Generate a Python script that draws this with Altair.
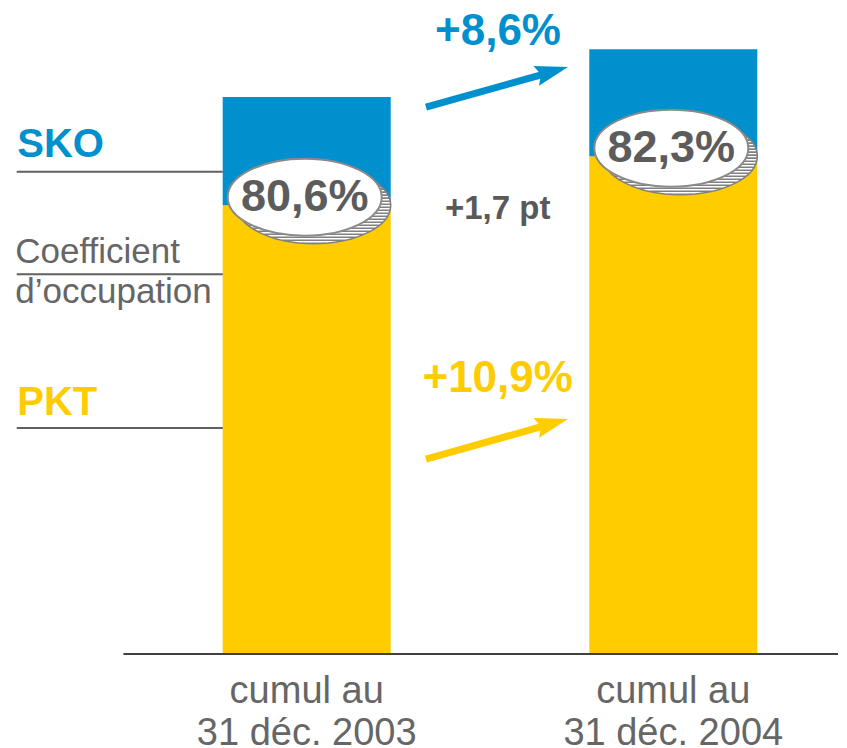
import altair as alt
import pandas as pd
import numpy as np

# ---------------- data ----------------
period_x = [1, 2]
period_line1 = ["cumul au", "cumul au"]
period_line2 = ["31 déc. 2003", "31 déc. 2004"]
sko = [100.0, 108.6]          # seat-km offered (index, 2003 = 100)
pkt = [80.6, 89.4]            # passenger-km transported (same index)
load_factor = ["80,6%", "82,3%"]
sko_growth = "+8,6%"
pkt_growth = "+10,9%"
lf_change = "+1,7 pt"
legend_names = ["SKO", "Coefficient\nd\u2019occupation", "PKT"]

# ---------------- styles / layout ----------------
BLUE = "#0090CE"
YELLOW = "#FFCC00"
GREY_TXT = "#666666"
GREY_DARK = "#5c5c5c"
FONT = "Liberation Sans"

X_DOM = [0.1852, 2.4493]
Y_DOM = [0, 116]
xs = alt.Scale(domain=X_DOM, nice=False, zero=False, padding=0)
ys = alt.Scale(domain=Y_DOM, nice=False, zero=False, padding=0)

def X(f):
    return alt.X(f, scale=xs, axis=None)

def Y(f):
    return alt.Y(f, scale=ys, axis=None)

# bars (stacked: PKT from 0, SKO remainder on top)
bar_rows = []
for i in range(2):
    bar_rows.append({"x": period_x[i], "serie": "PKT", "y0": 0, "y1": pkt[i]})
    bar_rows.append({"x": period_x[i], "serie": "SKO", "y0": pkt[i], "y1": sko[i]})
bars_df = pd.DataFrame(bar_rows)

bars = alt.Chart(bars_df).mark_bar(size=168).encode(
    x=X("x:Q"), y=Y("y0:Q"), y2="y1:Q",
    color=alt.Color("serie:N", scale=alt.Scale(domain=["SKO", "PKT"], range=[BLUE, YELLOW]),
                    legend=None),
)

# category labels under the baseline
cat_df = pd.DataFrame({
    "x": period_x,
    "label": [f"{a}\n{b}" for a, b in zip(period_line1, period_line2)],
    "y": [0, 0],
})
cat_text = alt.Chart(cat_df).mark_text(
    font=FONT, fontSize=38, color=GREY_TXT, align="center", baseline="alphabetic",
    lineBreak="\n", lineHeight=42, dy=49).encode(
    x=X("x:Q"), y=Y("y:Q"), text="label:N")

# baseline
base_df = pd.DataFrame({"x": [0.5], "x2": [X_DOM[1]], "y": [0]})
baseline = alt.Chart(base_df).mark_rule(color="#404040", strokeWidth=2).encode(
    x=X("x:Q"), x2="x2:Q", y=Y("y:Q"))

# left legend-like labels and their rules
leg_df = pd.DataFrame({
    "name": legend_names,
    "ty": [89.2, 70.2, 42.9],
    "ly": [86.6, 68.2, 40.6],
    "x": [0.205, 0.205, 0.205],
    "x0": [0.209, 0.209, 0.209],
    "x1": [0.771, 0.771, 0.771],
})
leg_rules = alt.Chart(leg_df).mark_rule(color="#606060", strokeWidth=2).encode(
    x=X("x0:Q"), x2="x1:Q", y=Y("ly:Q"))
leg_sko = alt.Chart(leg_df.iloc[[0]]).mark_text(
    align="left", baseline="alphabetic", font=FONT, fontSize=40, fontWeight="bold",
    color=BLUE, dx=2).encode(x=X("x:Q"), y=Y("ty:Q"), text="name:N")
leg_coef = alt.Chart(leg_df.iloc[[1]]).mark_text(
    align="left", baseline="alphabetic", font=FONT, fontSize=35, color=GREY_TXT,
    lineBreak="\n", lineHeight=40).encode(x=X("x:Q"), y=Y("ty:Q"), text="name:N")
leg_pkt = alt.Chart(leg_df.iloc[[2]]).mark_text(
    align="left", baseline="alphabetic", font=FONT, fontSize=40, fontWeight="bold",
    color=YELLOW, dx=2).encode(x=X("x:Q"), y=Y("ty:Q"), text="name:N")

# ellipses with load factor
def ellipse_path(ry=0.5):
    k = 0.5523
    return (f"M 1 0 C 1 {k*ry:.4f} {k:.4f} {ry} 0 {ry} "
            f"C {-k:.4f} {ry} -1 {k*ry:.4f} -1 0 "
            f"C -1 {-k*ry:.4f} {-k:.4f} {-ry} 0 {-ry} "
            f"C {k:.4f} {-ry} 1 {-k*ry:.4f} 1 0 Z")

def striped_path(ry=0.5, step=0.039):
    p = ellipse_path(ry)
    for yy in np.arange(-ry + step / 2, ry, step):
        w = np.sqrt(max(0.0, 1 - (yy / ry) ** 2))
        p += f" M {-w:.4f} {yy:.4f} L {w:.4f} {yy:.4f}"
    return p

ELL_SIZE = (2 * 77) ** 2
ell_df = pd.DataFrame({"x": period_x, "y": pkt, "label": load_factor})
shadow = alt.Chart(ell_df).mark_point(
    shape=striped_path(), size=ELL_SIZE, filled=False, fill="white", stroke="#808080",
    strokeWidth=1.6, opacity=1, fillOpacity=1, xOffset=7, yOffset=0).encode(
    x=X("x:Q"), y=Y("y:Q"))
ellipse = alt.Chart(ell_df).mark_point(
    shape=ellipse_path(), size=ELL_SIZE, filled=True, fill="white", stroke="#8a8a8a",
    strokeWidth=2, opacity=1, fillOpacity=1, xOffset=-2, yOffset=-8).encode(
    x=X("x:Q"), y=Y("y:Q"))
ell_text = alt.Chart(ell_df).mark_text(
    font=FONT, fontSize=45, fontWeight="bold", color=GREY_DARK, baseline="middle",
    align="center", xOffset=-2, yOffset=-8).encode(
    x=X("x:Q"), y=Y("y:Q"), text="label:N")

# arrows
arrow_df = pd.DataFrame({
    "color": [BLUE, YELLOW],
    "x": [1.3254, 1.3254], "y": [98.2, 35.0],
    "x2": [1.6446, 1.6446], "y2": [104.1, 40.9],
    "tx": [1.7128, 1.7128], "ty": [105.4, 42.2],
})
shafts = alt.Chart(arrow_df).mark_rule(strokeWidth=7, strokeCap="butt").encode(
    x=X("x:Q"), y=Y("y:Q"), x2="x2:Q", y2="y2:Q", color=alt.Color("color:N", scale=None))
heads = alt.Chart(arrow_df).mark_point(
    shape="M 0 0 L -1 -0.31 L -0.85 0 L -1 0.31 Z", size=(2 * 33) ** 2, filled=True,
    opacity=1, angle=344.3).encode(
    x=X("tx:Q"), y=Y("ty:Q"), color=alt.Color("color:N", scale=None))

# growth texts
gr_df = pd.DataFrame({
    "text": [sko_growth, lf_change, pkt_growth],
    "x": [1.5218, 1.521, 1.521],
    "y": [109.3, 78.1, 47.0],
    "color": [BLUE, "#595959", YELLOW],
    "size": [44, 33, 44],
})
gr_text = alt.Chart(gr_df).mark_text(
    font=FONT, fontWeight="bold", baseline="alphabetic", align="center").encode(
    x=X("x:Q"), y=Y("y:Q"), text="text:N", color=alt.Color("color:N", scale=None),
    size=alt.Size("size:Q", scale=None))

chart = alt.layer(
    bars, leg_rules, leg_sko, leg_coef, leg_pkt, baseline, cat_text,
    shadow, ellipse, ell_text, shafts, heads, gr_text
).properties(
    width=830, height=646,
    autosize=alt.AutoSizeParams(type="none"),
    padding={"left": 0, "top": 0, "right": 0, "bottom": 94},
).configure_view(stroke=None)

chart.save("out.html", embed_options={"renderer": "svg", "actions": False})
